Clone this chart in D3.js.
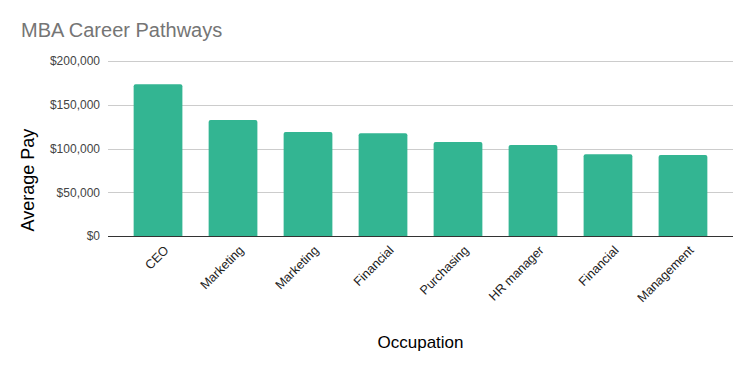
<!DOCTYPE html>
<html><head><meta charset="utf-8">
<script src="https://cdnjs.cloudflare.com/ajax/libs/d3/7.8.5/d3.min.js"></script>
<style>body{margin:0;background:#fff}svg{display:block;font-family:Arial,"Liberation Sans",sans-serif}</style>
</head><body><svg id="c" width="752" height="371"></svg>
<script>
const categories = ["CEO","Marketing","Marketing","Financial","Purchasing","HR manager","Financial","Management"];
const averagePay = [173500,132500,119000,117500,107500,104000,93500,92500];
const yTicks = [0,50000,100000,150000,200000];
const title = "MBA Career Pathways";
const xTitle = "Occupation";
const yTitle = "Average Pay";

(function(){
const svg = d3.select("#c");
const pl = 108, pr = 733, pt = 61, pb = 236;
const x = d3.scaleBand().domain(d3.range(categories.length)).range([pl,pr]).paddingInner(0.35).paddingOuter(0.342);
const y = d3.scaleLinear().domain([0,200000]).range([pb,pt]);
const fmt = v => "$" + d3.format(",")(v);

svg.append("text").attr("x",21).attr("y",37).attr("font-size",20).attr("fill","#757575").text(title);

const yAxis = svg.append("g").attr("transform",`translate(${pl},0)`)
  .call(d3.axisLeft(y).tickValues(yTicks).tickSize(-(pr-pl)).tickPadding(8).tickFormat(fmt));
yAxis.select(".domain").remove();
yAxis.selectAll(".tick line").attr("stroke","#cccccc").attr("shape-rendering","crispEdges");
yAxis.selectAll(".tick text").attr("font-size",12).attr("fill","#444").attr("font-family","Arial,'Liberation Sans',sans-serif");

svg.append("g").selectAll("path").data(averagePay).join("path")
  .attr("fill","#33b592")
  .attr("d",(d,i)=>{
    const x0 = x(i), w = x.bandwidth(), y0 = y(d), r = 2, yb = y(0);
    return `M${x0},${yb}V${y0+r}Q${x0},${y0} ${x0+r},${y0}H${x0+w-r}Q${x0+w},${y0} ${x0+w},${y0+r}V${yb}Z`;
  });

svg.append("line").attr("x1",pl).attr("x2",pr).attr("y1",y(0)).attr("y2",y(0))
  .attr("stroke","#333").attr("stroke-width",1).attr("shape-rendering","crispEdges");

svg.append("g").selectAll("text").data(categories).join("text")
  .attr("text-anchor","end").attr("font-size",12.6).attr("fill","#222")
  .attr("transform",(d,i)=>`translate(${x(i)+x.bandwidth()/2+11.5},251) rotate(-45)`)
  .text(d=>d);

svg.append("text").attr("x",(pl+pr)/2).attr("y",348).attr("text-anchor","middle")
  .attr("font-size",17).attr("fill","#000").text(xTitle);
svg.append("text").attr("transform","translate(34,180) rotate(-90)").attr("text-anchor","middle")
  .attr("font-size",18).attr("fill","#000").text(yTitle);
})();
</script></body></html>
